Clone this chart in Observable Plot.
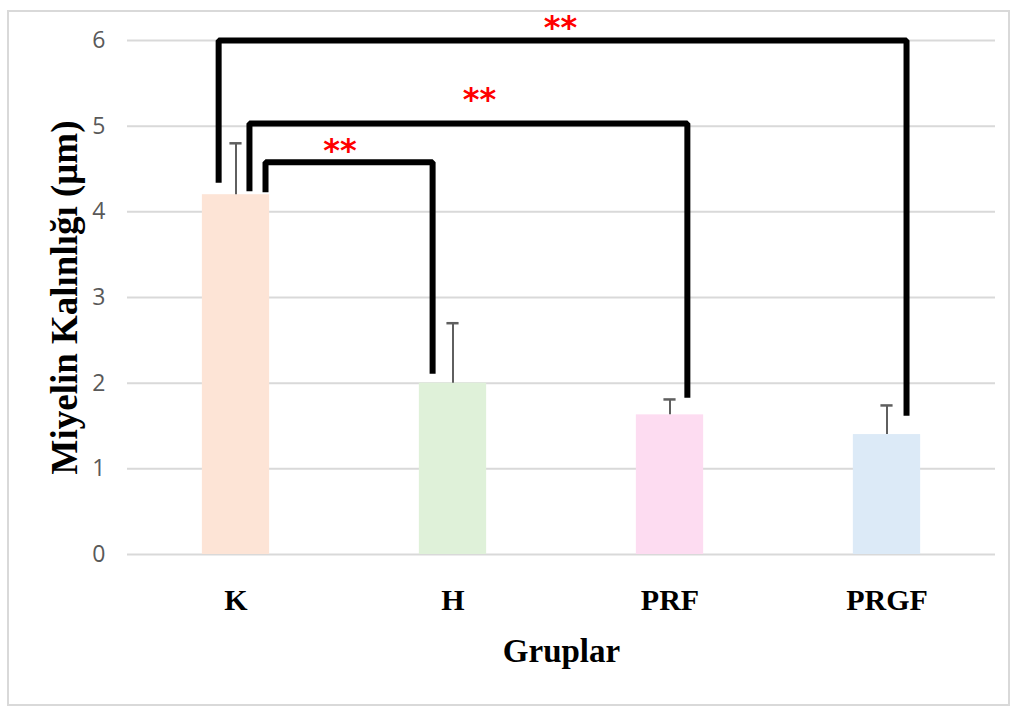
<!DOCTYPE html>
<html>
<head>
<meta charset="utf-8">
<script src="https://cdn.jsdelivr.net/npm/d3@7"></script>
<script src="https://cdn.jsdelivr.net/npm/@observablehq/plot@0.6"></script>
<style>
  html, body { margin: 0; padding: 0; background: #fff; }
  #wrap { position: relative; width: 1017px; height: 711px; overflow: hidden; }
  #border { position: absolute; left: 7px; top: 10px; width: 1003px; height: 696px; border: 2px solid #d9d9d9; box-sizing: border-box; }
  #chart { position: absolute; left: 0; top: 0; }
</style>
</head>
<body>
<div id="wrap"><div id="border"></div><div id="chart"></div></div>
<script>
// ---- data ----
const categories = ["K", "H", "PRF", "PRGF"];
const means = [4.2, 2.0, 1.63, 1.40];
const errors = [0.6, 0.7, 0.18, 0.34];
const barColors = ["#fde4d6", "#dff1d9", "#fddcf1", "#dceaf7"];
const yTicks = [0, 1, 2, 3, 4, 5, 6];

// significance brackets (from group -> to group)
const bracketFrom = ["K", "K", "K"];
const bracketTo = ["H", "PRF", "PRGF"];
const bracketTop = [4.58, 5.03, 6.0];
const bracketFromEnd = [4.23, 4.24, 4.34];
const bracketToEnd = [2.11, 1.83, 1.62];
const sigLabels = ["**", "**", "**"];
const sigLabelY = [4.79, 5.39, 6.23];

// layout offsets (in band units) for bracket legs and labels
const fromOffset = [0.136, 0.062, -0.08];
const toOffset = [-0.094, 0.08, 0.09];
const labelX = [0.479, 1.122, 1.495];

const idx = c => categories.indexOf(c);
const bars = categories.map((c, i) => ({i, c, v: means[i], e: means[i] + errors[i], color: barColors[i]}));
const bw = 0.155, cap = 0.028;

const bracketPts = [];
bracketFrom.forEach((f, k) => {
  const xa = idx(f) + fromOffset[k], xb = idx(bracketTo[k]) + toOffset[k];
  bracketPts.push({k, x: xa, y: bracketFromEnd[k]});
  bracketPts.push({k, x: xa, y: bracketTop[k]});
  bracketPts.push({k, x: xb, y: bracketTop[k]});
  bracketPts.push({k, x: xb, y: bracketToEnd[k]});
});
const sig = sigLabels.map((s, k) => ({s, x: labelX[k], y: sigLabelY[k]}));

const serif = "'Liberation Serif', 'Times New Roman', serif";

const chart = Plot.plot({
  width: 1017,
  height: 711,
  marginLeft: 127,
  marginRight: 22,
  marginTop: 40,
  marginBottom: 157,
  style: {background: "transparent", overflow: "visible"},
  x: {type: "linear", domain: [-0.5, 3.5]},
  y: {domain: [0, 6]},
  marks: [
    Plot.gridY(yTicks, {stroke: "#d9d9d9", strokeOpacity: 1, strokeWidth: 2}),
    Plot.axisY(yTicks, {tickSize: 0, tickPadding: 22, tickFormat: d => String(d), fontSize: 23, fill: "#595959", fontFamily: "'Open Sans', sans-serif", label: null}),
    Plot.axisX([0, 1, 2, 3], {tickSize: 0, tickPadding: 34, tickFormat: i => categories[i], fontSize: 30, fontWeight: "bold", fontFamily: serif, fill: "#000", label: null}),
    Plot.rectY(bars, {x1: d => d.i - bw, x2: d => d.i + bw, y: "v", fill: "color"}),
    Plot.ruleX(bars, {x: "i", y1: "v", y2: "e", stroke: "#5f5f5f", strokeWidth: 2}),
    Plot.ruleY(bars, {x1: d => d.i - cap, x2: d => d.i + cap, y: "e", stroke: "#5f5f5f", strokeWidth: 2.5}),
    Plot.line(bracketPts, {x: "x", y: "y", z: "k", stroke: "#000", strokeWidth: 6, strokeLinejoin: "miter", strokeLinecap: "butt"}),
    Plot.text(sig, {x: "x", y: "y", text: "s", fill: "#ff0000", fontSize: 32, fontWeight: "bold", fontFamily: "'DejaVu Sans', sans-serif", lineAnchor: "middle", dy: 7}),
    Plot.text(["Gruplar"], {frameAnchor: "bottom", dy: 97, text: d => d, fontSize: 33, fontWeight: "bold", fontFamily: serif, fill: "#000", lineAnchor: "middle"}),
    Plot.text(["Miyelin Kalınlığı (μm)"], {frameAnchor: "left", dx: -62, rotate: -90, text: d => d, textAnchor: "middle", fontSize: 37, fontWeight: "bold", fontFamily: serif, fill: "#000", lineAnchor: "middle"})
  ]
});
document.getElementById("chart").appendChild(chart);
</script>
</body>
</html>
